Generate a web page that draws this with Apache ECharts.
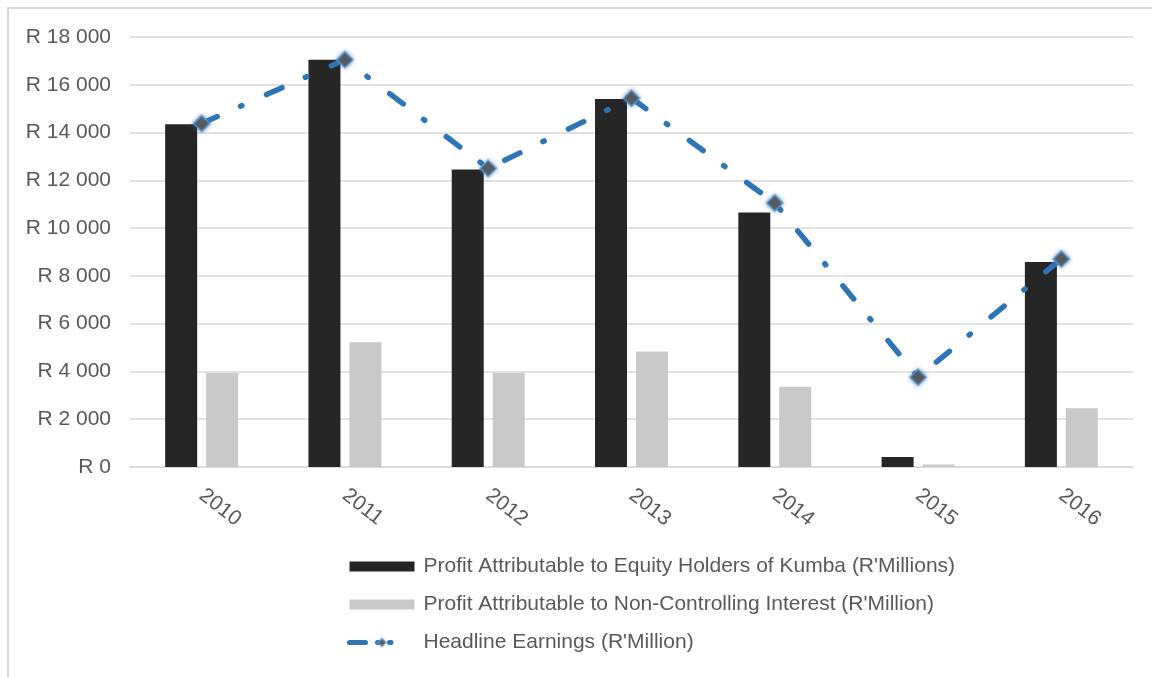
<!DOCTYPE html>
<html>
<head>
<meta charset="utf-8">
<script src="https://cdn.jsdelivr.net/npm/echarts@6/dist/echarts.min.js"></script>
<style>
  html, body { margin: 0; padding: 0; background: #fff; }
  #chart { width: 1152px; height: 677px; }
</style>
</head>
<body>
<div id="chart"></div>
<script>
// Kumba Iron Ore: profit split and headline earnings, R'Millions
const years = ['2010', '2011', '2012', '2013', '2014', '2015', '2016'];
const equityHolders = [14350, 17050, 12450, 15400, 10650, 420, 8580];
const nonControlling = [3930, 5220, 3930, 4840, 3360, 100, 2460];
const headlineEarnings = [14380, 17050, 12500, 15440, 11050, 3760, 8710];

const seriesNames = [
  "Profit Attributable to Equity Holders of Kumba (R'Millions)",
  "Profit Attributable to Non-Controlling Interest (R'Million)",
  "Headline Earnings (R'Million)"
];

const FONT = "'Liberation Sans', Arial, sans-serif";
const TEXT = '#595959';
const GRID = '#d9d9d9';

function rand(v) {
  return 'R ' + String(v).replace(/\B(?=(\d{3})+(?!\d))/g, ' ');
}

const chart = echarts.init(document.getElementById('chart'));
chart.setOption({
  animation: false,
  backgroundColor: '#ffffff',
  textStyle: { fontFamily: FONT },
  graphic: [{
    type: 'rect',
    shape: { x: 8, y: 8, width: 1300, height: 800 },
    style: { fill: 'none', stroke: GRID, lineWidth: 2 },
    silent: true
  }],
  grid: { left: 130, right: 19, top: 37, bottom: 210, containLabel: false },
  legend: {
    orient: 'vertical',
    left: 342,
    top: 551,
    itemWidth: 65,
    itemHeight: 10,
    itemGap: 17,
    textStyle: { color: TEXT, fontSize: 21, fontFamily: FONT, padding: [0, 0, 0, 4] },
    data: [
      { name: seriesNames[0], icon: 'rect' },
      { name: seriesNames[1], icon: 'rect' },
      {
        name: seriesNames[2],
        lineStyle: { type: [16, 12, 1.5, 10.5, 1.5, 200], width: 5, cap: 'round' }
      }
    ]
  },
  xAxis: {
    type: 'category',
    data: years,
    axisLine: { lineStyle: { color: GRID, width: 1.5 } },
    axisTick: { show: false },
    axisLabel: {
      color: TEXT,
      fontSize: 21,
      fontFamily: FONT,
      rotate: -38,
      margin: 26
    }
  },
  yAxis: {
    type: 'value',
    min: 0,
    max: 18000,
    interval: 2000,
    axisLine: { show: false },
    axisTick: { show: false },
    splitLine: { lineStyle: { color: GRID, width: 1.5 } },
    axisLabel: {
      color: TEXT,
      fontSize: 21,
      fontFamily: FONT,
      margin: 19,
      formatter: rand
    }
  },
  series: [
    {
      name: seriesNames[0],
      type: 'bar',
      data: equityHolders,
      barWidth: 32,
      barGap: '28%',
      itemStyle: { color: '#262626' },
      z: 2
    },
    {
      name: seriesNames[1],
      type: 'bar',
      data: nonControlling,
      barWidth: 32,
      itemStyle: { color: '#c9c9c9' },
      z: 2
    },
    {
      name: seriesNames[2],
      type: 'line',
      data: headlineEarnings,
      symbol: 'diamond',
      symbolSize: 16,
      z: 5,
      lineStyle: {
        color: '#2e75b6',
        width: 5.5,
        type: [17, 25.5, 1.5, 27],
        cap: 'round'
      },
      itemStyle: {
        color: '#595959',
        borderColor: 'rgba(91,155,213,0.6)',
        borderWidth: 2,
        shadowBlur: 4,
        shadowColor: 'rgba(46,117,182,0.7)'
      }
    }
  ]
});
</script>
</body>
</html>
